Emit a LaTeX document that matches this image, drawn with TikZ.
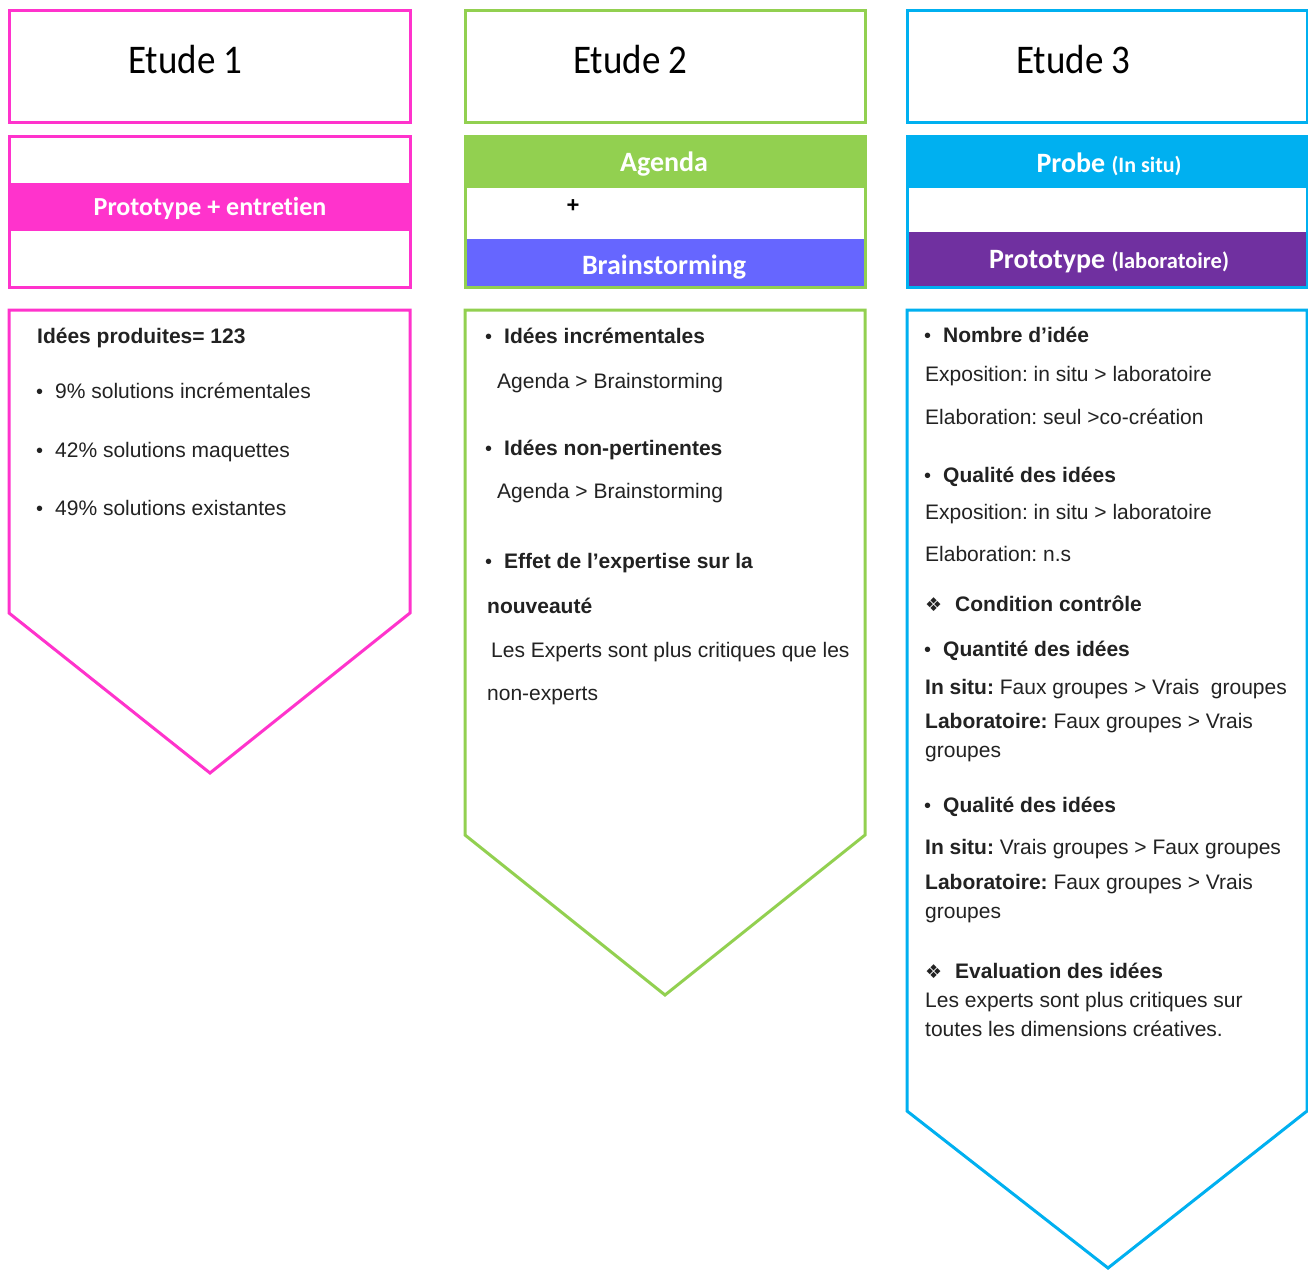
\documentclass[tikz,border=0pt]{standalone}
\usepackage{fontspec}
\usepackage{graphicx}
\setmainfont{Liberation Sans}
\newfontfamily\calib[Ligatures=NoCommon]{Carlito}
\newfontfamily\djv{DejaVu Sans}
\definecolor{pinkc}{HTML}{FF33CC}
\definecolor{greenc}{HTML}{92D050}
\definecolor{bluec}{HTML}{6666FF}
\definecolor{cyanc}{HTML}{00B0F0}
\definecolor{purplec}{HTML}{7030A0}
\definecolor{txt}{HTML}{222222}
\newcommand{\bul}{{\fontsize{20}{20}\selectfont\textbullet}}
\newcommand{\dia}{{\djv\fontsize{19}{19}\selectfont ❖}}
\frenchspacing
\begin{document}
\begin{tikzpicture}[x=1pt,y=-1pt,
  frame/.style={line width=3pt, line join=miter},
  title/.style={font=\calib\fontsize{37}{40}\selectfont, text=black, anchor=base west, inner sep=0pt},
  band/.style={font=\calib\bfseries\fontsize{28}{30}\selectfont, text=white, anchor=base, inner sep=0pt},
  body/.style={font=\fontsize{21}{25}\selectfont, text=txt, anchor=base west, inner sep=0pt},
  bodyb/.style={body, font=\fontsize{21}{25}\selectfont\bfseries},
  bull/.style={text=txt, anchor=base west, inner sep=0pt}
]
\useasboundingbox (0,0) rectangle (1308,1270);
\fill[white] (0,0) rectangle (1308,1270);

% ---------- Column 1 ----------
\draw[frame, pinkc] (9,10) rectangle (410,122);
\fill[pinkc] (9,183) rectangle (410,231);
\draw[frame, pinkc] (9,136) rectangle (410,287);
\draw[frame, pinkc] (9,310) -- (410,310) -- (410,613) -- (210,773) -- (9,613) -- cycle;

\node[title] (e1) at (128,73) {\scalebox{1}[1.1]{Etude 1}};
\node[band, font=\calib\bfseries\fontsize{26}{28}\selectfont] (b1) at (210,215) {Prototype + entretien};

\node[bodyb] (c1h) at (37,343) {Idées produites= 123};
\node[bull] (c1b1) at (36,398) {\bul};
\node[body] (c1t1) at (55,398) {9\% solutions incrémentales};
\node[bull] (c1b2) at (36,457) {\bul};
\node[body] (c1t2) at (55,457) {42\% solutions maquettes};
\node[bull] (c1b3) at (36,515) {\bul};
\node[body] (c1t3) at (55,515) {49\% solutions existantes};

% ---------- Column 2 ----------
\draw[frame, greenc] (465,10) rectangle (865,122);
\fill[greenc] (465,136) rectangle (865,188);
\fill[bluec] (466,239) rectangle (864,287);
\draw[frame, greenc] (465,136) rectangle (865,287);
\draw[frame, greenc] (465,310) -- (865,310) -- (865,835) -- (665,995) -- (465,835) -- cycle;

\node[title] (e2) at (573,73) {\scalebox{1}[1.1]{Etude 2}};
\node[band] (b2a) at (664,171) {Agenda};
\node[font=\fontsize{22}{22}\selectfont\bfseries, text=black, inner sep=0pt] (plus) at (573,206) {+};
\node[band] (b2b) at (664,274) {Brainstorming};

\node[bull] (c2b1) at (485,343) {\bul};
\node[bodyb] (c2h1) at (504,343) {Idées incrémentales};
\node[body] (c2t1) at (497,388) {Agenda > Brainstorming};
\node[bull] (c2b2) at (485,455) {\bul};
\node[bodyb] (c2h2) at (504,455) {Idées non-pertinentes};
\node[body] (c2t2) at (497,498) {Agenda > Brainstorming};
\node[bull] (c2b3) at (485,568) {\bul};
\node[bodyb] (c2h3) at (504,568) {Effet de l’expertise sur la};
\node[bodyb] (c2h3b) at (487,613) {nouveauté};
\node[body] (c2t3) at (491,657) {Les Experts sont plus critiques que les};
\node[body] (c2t3b) at (487,700) {non-experts};

% ---------- Column 3 ----------
\draw[frame, cyanc] (907,10) rectangle (1307,122);
\fill[cyanc] (907,136) rectangle (1307,188);
\fill[purplec] (908,232) rectangle (1307,287);
\draw[frame, cyanc] (907,136) rectangle (1307,287);
\draw[frame, cyanc] (907,310) -- (1307,310) -- (1307,1111) -- (1108,1268) -- (907,1111) -- cycle;

\node[title] (e3) at (1016,73) {\scalebox{1}[1.1]{Etude 3}};
\node[band] (b3a) at (1109,172) {Probe {\fontsize{22}{22}\selectfont (In situ)}};
\node[band] (b3b) at (1109,268) {Prototype {\fontsize{22.5}{22}\selectfont (laboratoire)}};

\node[bull] (c3b1) at (924,342) {\bul};
\node[bodyb] (c3h1) at (943,342) {Nombre d’idée};
\node[body] (c3t1) at (925,381) {Exposition: in situ > laboratoire};
\node[body] (c3t2) at (925,424) {Elaboration: seul >co-création};
\node[bull] (c3b2) at (924,482) {\bul};
\node[bodyb] (c3h2) at (943,482) {Qualité des idées};
\node[body] (c3t3) at (925,519) {Exposition: in situ > laboratoire};
\node[body] (c3t4) at (925,561) {Elaboration: n.s};
\node[bull] (c3d1) at (925,611) {\dia};
\node[bodyb] (c3h3) at (955,611) {Condition contrôle};
\node[bull] (c3b3) at (924,656) {\bul};
\node[bodyb] (c3h4) at (943,656) {Quantité des idées};
\node[body] (c3t5) at (925,694) {\textbf{In situ:} Faux groupes > Vrais~ groupes};
\node[body] (c3t6) at (925,728) {\textbf{Laboratoire:} Faux groupes > Vrais};
\node[body] (c3t7) at (925,757) {groupes};
\node[bull] (c3b4) at (924,812) {\bul};
\node[bodyb] (c3h5) at (943,812) {Qualité des idées};
\node[body] (c3t8) at (925,854) {\textbf{In situ:} Vrais groupes > Faux groupes};
\node[body] (c3t9) at (925,889) {\textbf{Laboratoire:} Faux groupes > Vrais};
\node[body] (c3t10) at (925,918) {groupes};
\node[bull] (c3d2) at (925,978) {\dia};
\node[bodyb] (c3h6) at (955,978) {Evaluation des idées};
\node[body] (c3t11) at (925,1007) {Les experts sont plus critiques sur};
\node[body] (c3t12) at (925,1036) {toutes les dimensions créatives.};
\end{tikzpicture}
\end{document}
